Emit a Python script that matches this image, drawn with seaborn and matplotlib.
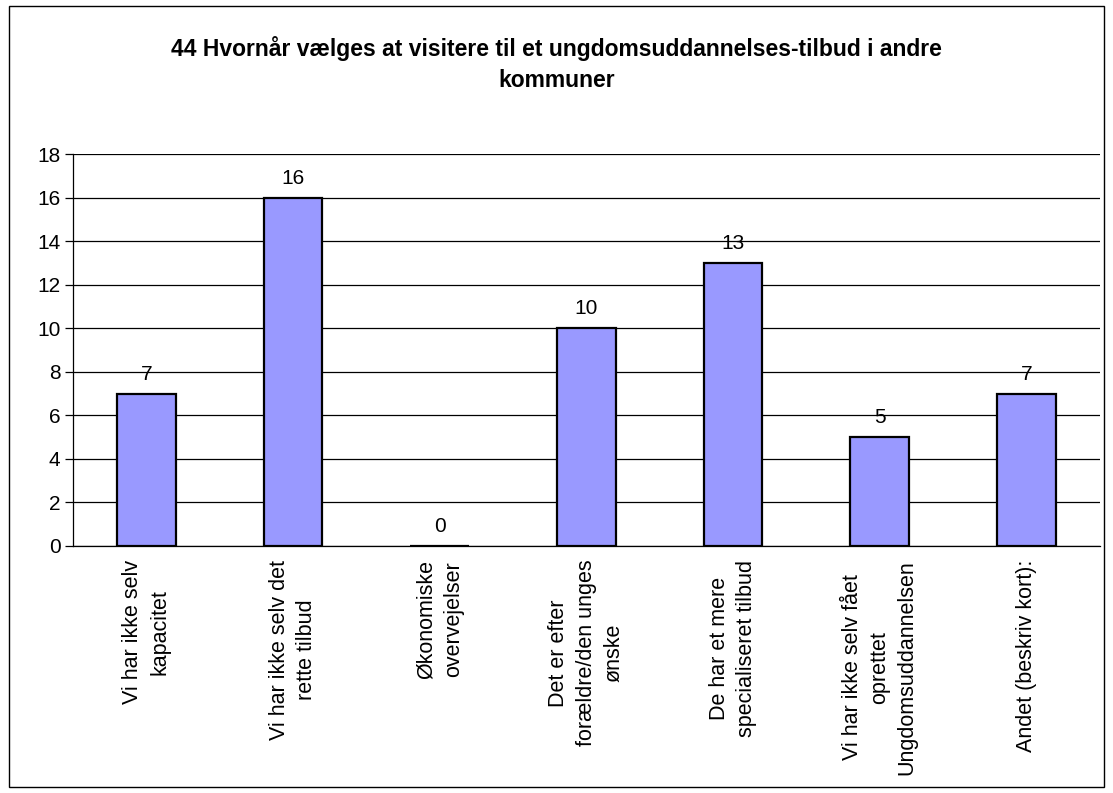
import numpy as np
import pandas as pd
import matplotlib
matplotlib.use("Agg")
import matplotlib.pyplot as plt
import seaborn as sns
from matplotlib.patches import Rectangle

# Chart data
title = "44 Hvornår vælges at visitere til et ungdomsuddannelses-tilbud i andre\nkommuner"
categories = [
    "Vi har ikke selv\nkapacitet",
    "Vi har ikke selv det\nrette tilbud",
    "Økonomiske\novervejelser",
    "Det er efter\nforældre/den unges\nønske",
    "De har et mere\nspecialiseret tilbud",
    "Vi har ikke selv fået\noprettet\nUngdomsuddannelsen",
    "Andet (beskriv kort):",
]
values = [7, 16, 0, 10, 13, 5, 7]
y_ticks = [0, 2, 4, 6, 8, 10, 12, 14, 16, 18]

sns.set_theme(style="white")
plt.rcParams["font.family"] = ["Liberation Sans", "DejaVu Sans"]
plt.rcParams["text.color"] = "black"
plt.rcParams["xtick.color"] = "black"
plt.rcParams["ytick.color"] = "black"

fig = plt.figure(figsize=(11.13, 7.93), dpi=100)
ax = fig.add_axes([0.0656, 0.3115, 0.9224, 0.4943])

df = pd.DataFrame({"kategori": categories, "antal": values})
sns.barplot(data=df, x="kategori", y="antal", color="#9999FF", saturation=1,
            edgecolor="black", linewidth=1.6, width=0.4, ax=ax, zorder=3)

ax.bar_label(ax.containers[0], labels=[str(v) for v in values],
             padding=7, fontsize=15, color="black")

ax.set_ylim(0, 18)
ax.set_xlim(-0.5, len(categories) - 0.5)
ax.set_yticks(y_ticks)
ax.set_yticklabels([str(t) for t in y_ticks], fontsize=15)
ax.yaxis.grid(True, color="black", linewidth=0.9, zorder=0)
ax.set_axisbelow(True)

ax.set_xticks(range(len(categories)))
ax.set_xticklabels(categories, rotation=90, fontsize=15.5, va="top", ha="center",
                   multialignment="center", linespacing=1.4)
ax.set_xticks(np.arange(-0.5, len(categories), 1), minor=True)
ax.tick_params(axis="x", which="major", length=0, pad=10)
ax.tick_params(axis="x", which="minor", length=6, width=0.9, direction="out", color="black")
ax.tick_params(axis="y", length=6, width=0.9, direction="out", color="black", left=True, pad=3)
ax.set_xlabel("")
ax.set_ylabel("")

for side in ["top", "right"]:
    ax.spines[side].set_visible(False)
for side in ["left", "bottom"]:
    ax.spines[side].set_color("black")
    ax.spines[side].set_linewidth(0.9)

fig.text(0.5, 0.919, title, ha="center", va="center", fontsize=16.5, fontweight="bold",
         linespacing=1.45, color="black")

# outer border of the chart area
fig.patches.append(Rectangle((0.008, 0.008), 0.984, 0.984, transform=fig.transFigure,
                             fill=False, edgecolor="black", linewidth=1))

fig.savefig("out.png", dpi=100)
